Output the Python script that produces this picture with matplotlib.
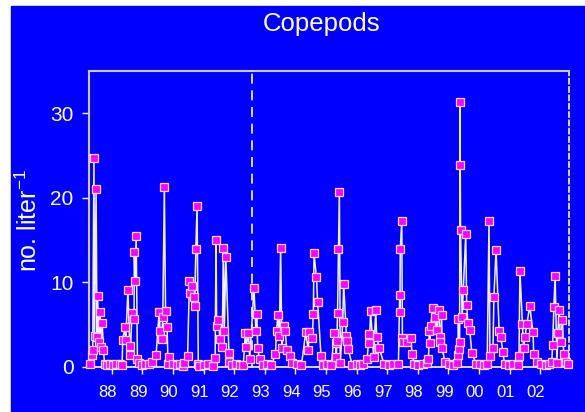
import numpy as np
import matplotlib
matplotlib.use('Agg')
import matplotlib.pyplot as plt
import matplotlib.transforms as mtransforms
from matplotlib.patches import Rectangle

plt.rcParams['font.family'] = ['Liberation Sans', 'DejaVu Sans']
plt.rcParams['mathtext.default'] = 'regular'

# sampling dates (decimal year) and copepod counts (no. per liter)
t = [1987.79, 1987.84, 1987.88, 1987.92, 1987.94, 1987.99, 1988.02, 1988.04, 1988.08, 1988.12,
     1988.16, 1988.19, 1988.23, 1988.27, 1988.35, 1988.45, 1988.55, 1988.65,
     1988.77, 1988.84, 1988.86, 1988.93, 1988.96, 1989.03, 1989.09, 1989.11, 1989.16, 1989.23,
     1989.24, 1989.26, 1989.30, 1989.34, 1989.38, 1989.48, 1989.60,
     1989.73, 1989.82, 1989.95, 1990.05, 1990.08, 1990.13, 1990.17, 1990.22, 1990.26, 1990.31,
     1990.34, 1990.38, 1990.50, 1990.62, 1990.72,
     1990.82, 1990.86, 1990.98, 1991.04, 1991.06, 1991.11, 1991.19, 1991.21, 1991.25, 1991.29,
     1991.33, 1991.36, 1991.50, 1991.65,
     1991.82, 1991.88, 1991.91, 1991.93, 1991.98, 1992.04, 1992.11, 1992.15, 1992.18, 1992.23,
     1992.33, 1992.34, 1992.42, 1992.55, 1992.68,
     1992.80, 1992.87, 1992.89, 1992.97, 1993.01, 1993.15, 1993.21, 1993.24, 1993.27, 1993.33,
     1993.45, 1993.58, 1993.72,
     1993.85, 1993.89, 1993.93, 1993.98, 1994.02, 1994.06, 1994.13, 1994.17, 1994.22, 1994.33,
     1994.40, 1994.55, 1994.70,
     1994.84, 1994.92, 1994.96, 1995.05, 1995.09, 1995.11, 1995.19, 1995.23, 1995.34, 1995.41,
     1995.55, 1995.68,
     1995.77, 1995.82, 1995.84, 1995.86, 1995.88, 1995.91, 1995.94, 1995.97, 1996.05, 1996.08,
     1996.17, 1996.20, 1996.23, 1996.36, 1996.50, 1996.62,
     1996.72, 1996.85, 1996.91, 1996.92, 1996.96, 1997.06, 1997.13, 1997.16, 1997.25, 1997.40,
     1997.55, 1997.70,
     1997.87, 1997.91, 1997.92, 1997.93, 1997.98, 1998.00, 1998.01, 1998.14, 1998.27, 1998.32,
     1998.39, 1998.52, 1998.68,
     1998.80, 1998.85, 1998.88, 1998.90, 1998.92, 1999.00, 1999.06, 1999.12, 1999.19, 1999.22,
     1999.24, 1999.28, 1999.30, 1999.39, 1999.52, 1999.65,
     1999.77, 1999.81, 1999.83, 1999.85, 1999.87, 1999.88, 1999.89, 1999.90, 1999.95, 1999.99,
     2000.07, 2000.10, 2000.14, 2000.20, 2000.27, 2000.41, 2000.55, 2000.67,
     2000.77, 2000.83, 2000.86, 2000.96, 2000.99, 2001.06, 2001.16, 2001.22, 2001.28, 2001.34,
     2001.48, 2001.62,
     2001.77, 2001.81, 2001.84, 2001.92, 2001.96, 2002.00, 2002.07, 2002.16, 2002.27, 2002.29,
     2002.39, 2002.52, 2002.68,
     2002.80, 2002.88, 2002.91, 2002.95, 2002.99, 2003.05, 2003.08, 2003.12, 2003.17, 2003.23,
     2003.27, 2003.34, 2003.41]

n = [0.4, 1.4, 2.0, 24.7, 3.7, 21.0, 3.5, 8.4, 3.0, 6.5,
     2.4, 5.2, 2.0, 0.3, 0.2, 0.3, 0.2, 0.3,
     0.4, 0.2, 3.2, 4.7, 3.2, 9.1, 2.5, 1.4, 6.4, 5.7,
     13.6, 10.2, 15.5, 1.0, 0.5, 0.2, 0.3,
     0.4, 0.6, 1.4, 6.5, 4.3, 3.3, 5.9, 21.3, 6.6, 4.7,
     0.4, 1.2, 0.3, 0.2, 0.3,
     0.1, 0.5, 1.3, 10.2, 8.8, 9.6, 8.3, 7.2, 14.0, 19.0,
     0.4, 0.1, 0.2, 0.3,
     0.1, 1.1, 15.0, 4.8, 5.6, 3.3, 2.4, 14.1, 4.3, 13.0,
     1.7, 0.6, 0.2, 0.3, 0.2,
     0.2, 4.0, 2.4, 4.0, 1.0, 9.3, 4.3, 6.3, 2.2, 1.0,
     0.2, 0.3, 0.2,
     1.5, 4.3, 6.2, 3.7, 14.1, 2.2, 4.8, 4.3, 2.0, 1.3,
     0.5, 0.3, 0.2,
     4.1, 2.0, 4.1, 3.4, 6.3, 13.5, 10.6, 7.7, 1.3, 0.2,
     0.3, 0.2,
     4.0, 2.8, 1.2, 3.1, 6.4, 13.9, 20.7, 0.5, 5.3, 9.8,
     3.7, 3.1, 2.1, 0.2, 0.3, 0.2,
     0.4, 1.0, 3.9, 2.8, 6.6, 1.2, 6.7, 3.5, 2.2, 0.3,
     0.2, 0.3,
     0.4, 8.5, 6.5, 13.9, 17.3, 3.4, 2.9, 3.0, 3.4, 1.5,
     0.3, 0.2, 0.3,
     0.5, 0.9, 4.2, 2.8, 4.8, 7.0, 5.9, 4.4, 6.7, 3.6,
     3.0, 6.1, 2.2, 0.6, 0.3, 0.2,
     0.5, 1.4, 5.7, 2.1, 3.0, 31.3, 23.9, 16.2, 5.9, 9.1,
     15.7, 7.3, 5.2, 4.4, 1.6, 0.4, 0.3, 0.2,
     0.4, 17.3, 1.3, 2.2, 8.3, 13.8, 4.3, 3.5, 1.8, 0.3,
     0.2, 0.3,
     0.2, 1.3, 11.4, 5.1, 2.2, 3.5, 5.1, 7.2, 4.1, 1.5,
     0.6, 0.3, 0.2,
     0.3, 0.6, 2.6, 7.1, 10.8, 0.5, 4.0, 6.7, 2.9, 5.6,
     1.5, 0.6, 0.4]

year_ticks = [1988.5 + i for i in range(15)]
year_labels = ['88', '89', '90', '91', '92', '93', '94', '95', '96', '97',
               '98', '99', '00', '01', '02']
break_year = 1993.08

blue = '#0000ff'

fig = plt.figure(figsize=(5.85, 4.12), dpi=100)
fig.patch.set_facecolor('white')
fig.patches.append(Rectangle((11 / 585, 0), 1 - 11 / 585, 1 - 6 / 412,
                             transform=fig.transFigure, color=blue, zorder=-10))

ax = fig.add_axes([89 / 585, 1 - 367 / 412, 480 / 585, 296 / 412])
ax.set_facecolor(blue)

ax.plot(t, n, color='#f4f4ff', lw=1.1, zorder=2, clip_on=False)
ax.plot(t, n, linestyle='', marker='s', ms=5.8, mfc='#ff00ff', mec='#ffd8ff',
        mew=0.9, zorder=3, clip_on=False)
ax.axvline(break_year, color='white', lw=1.2, ls=(0, (6, 4)), zorder=1)

ax.set_xlim(1987.758, 2003.444)
ax.set_ylim(0, 35)

ax.set_yticks([0, 10, 20, 30])
ax.set_xticks(year_ticks)
ax.set_xticklabels(year_labels)

ax.tick_params(axis='y', colors='white', labelsize=15, length=5, width=1, pad=6)
ax.tick_params(axis='x', colors='white', labelsize=12, length=5, width=1, pad=8)
for lab in ax.get_xticklabels():
    lab.set_transform(lab.get_transform() +
                      mtransforms.ScaledTranslation(-4 / 100, 0, fig.dpi_scale_trans))

for side in ['top', 'left']:
    ax.spines[side].set_color('#c8c8ff')
    ax.spines[side].set_linewidth(1.5)
ax.spines['bottom'].set_color('white')
ax.spines['bottom'].set_linewidth(1.2)
ax.spines['right'].set_color('white')
ax.spines['right'].set_linestyle((0, (3, 2)))
ax.spines['right'].set_linewidth(1.2)

fig.text(322 / 585, 1 - 24 / 412, 'Copepods', color='white', fontsize=18.5,
         ha='center', va='center')
fig.text(29 / 585, 1 - 220 / 412, 'no. liter$^{-1}$', color='white', fontsize=18,
         ha='center', va='center', rotation=90)

fig.savefig('out.png', dpi=100, facecolor=fig.get_facecolor())
